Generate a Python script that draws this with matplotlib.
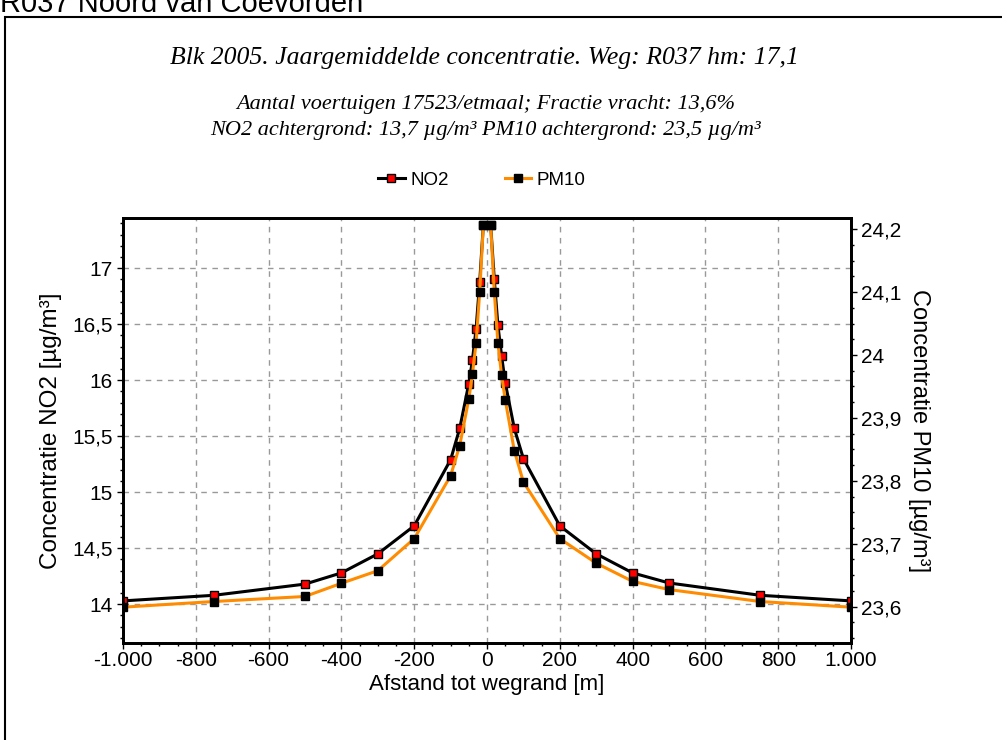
import matplotlib
matplotlib.use("Agg")
import matplotlib.pyplot as plt
from matplotlib.patches import Rectangle
from matplotlib.ticker import MultipleLocator, FuncFormatter
from matplotlib.lines import Line2D

# distance to road edge [m]
afstand = [-1000, -750, -500, -400, -300, -200, -100, -75, -50, -40, -30, -20, -10,
           10, 20, 30, 40, 50, 75, 100, 200, 300, 400, 500, 750, 1000]

no2 = [14.03, 14.08, 14.18, 14.28, 14.45, 14.70, 15.29, 15.57, 15.97, 16.18, 16.46, 16.88, 17.39,
       17.39, 16.90, 16.49, 16.22, 15.98, 15.57, 15.30, 14.70, 14.45, 14.28, 14.19, 14.08, 14.03]

pm10 = [23.599, 23.608, 23.616, 23.637, 23.657, 23.708, 23.808, 23.856, 23.930, 23.970, 24.019, 24.101, 24.207,
        24.207, 24.101, 24.019, 23.968, 23.929, 23.848, 23.798, 23.708, 23.669, 23.640, 23.627, 23.608, 23.599]

kop = "R037 Noord van Coevorden"
titel = "Blk 2005. Jaargemiddelde concentratie. Weg: R037 hm: 17,1"
sub1 = "Aantal voertuigen 17523/etmaal; Fractie vracht: 13,6%"
sub2 = "NO2 achtergrond: 13,7 µg/m³ PM10 achtergrond: 23,5 µg/m³"

sans = ["Liberation Sans", "DejaVu Sans"]
serif = ["Liberation Serif", "DejaVu Serif"]
plt.rcParams["font.family"] = sans

fig = plt.figure(figsize=(10.02, 7.4), dpi=100)
W, H = 1002, 740

# outer frame
fig.add_artist(Rectangle((5 / W, -0.1), 2, 1 - 17 / H + 0.1, transform=fig.transFigure,
                         fill=False, lw=1.5, ec="black"))
fig.text(0, 1 - 12 / H, kop, fontsize=21, va="baseline", ha="left")

fig.text(484 / W, 1 - 58 / H, titel, fontsize=18.5, family=serif, style="italic", ha="center", va="center")
fig.text(486 / W, 1 - 104 / H, sub1, fontsize=16, family=serif, style="italic", ha="center", va="center")
fig.text(485 / W, 1 - 130 / H, sub2, fontsize=16, family=serif, style="italic", ha="center", va="center")

ax = fig.add_axes([123 / W, 1 - 643 / H, (851 - 123) / W, (643 - 218) / H])
ax2 = ax.twinx()

ax.plot(afstand, no2, color="black", lw=2.2, marker="s", ms=5.5, mfc="red", mec="black", mew=1, zorder=3)
ax2.plot(afstand, pm10, color="#ff8c00", lw=2.2, marker="s", ms=6, mfc="black", mec="black", zorder=3)

ax.set_xlim(-1000, 1000)
ax.set_ylim(13.654, 17.449)
ax2.set_ylim(23.542, 24.218)

ax.xaxis.set_major_locator(MultipleLocator(200))
ax.xaxis.set_minor_locator(MultipleLocator(50))
ax.yaxis.set_major_locator(MultipleLocator(0.5))
ax.yaxis.set_minor_locator(MultipleLocator(0.1))
ax2.yaxis.set_major_locator(MultipleLocator(0.1))
ax2.yaxis.set_minor_locator(MultipleLocator(0.025))


def nl(v, pos):
    if abs(v) >= 1000:
        return f"{v:,.0f}".replace(",", ".")
    s = f"{v:.2f}".rstrip("0").rstrip(".")
    return s.replace(".", ",")


ax.xaxis.set_major_formatter(FuncFormatter(nl))
ax.yaxis.set_major_formatter(FuncFormatter(nl))
ax2.yaxis.set_major_formatter(FuncFormatter(nl))

ax.grid(True, which="major", color="#999999", ls=(0, (4, 4)), lw=1)
ax.set_axisbelow(True)

for a in (ax, ax2):
    for sp in a.spines.values():
        sp.set_linewidth(2)
    a.tick_params(which="major", direction="out", length=4, width=1, labelsize=15)
    a.tick_params(which="minor", direction="out", length=2.5, width=1)
ax.tick_params(axis="x", pad=1.5)

ax.set_xlabel("Afstand tot wegrand [m]", fontsize=16, labelpad=3)
ax.set_ylabel("Concentratie NO2 [µg/m³]", fontsize=17.5, labelpad=7)
ax2.set_ylabel("Concentratie PM10 [µg/m³]", fontsize=17, rotation=-90, labelpad=20)

h1 = Line2D([], [], color="black", lw=2.2, marker="s", ms=5.5, mfc="red", mec="black")
h2 = Line2D([], [], color="#ff8c00", lw=2.2, marker="s", ms=5.5, mfc="black", mec="black")
fig.legend([h1, h2], ["NO2", "PM10"], loc="center", bbox_to_anchor=(482 / W, 1 - 180 / H), ncol=2,
           frameon=False, fontsize=13.5, handlelength=1.4, handletextpad=0.3, columnspacing=3.0)

fig.savefig("out.png", dpi=100)
